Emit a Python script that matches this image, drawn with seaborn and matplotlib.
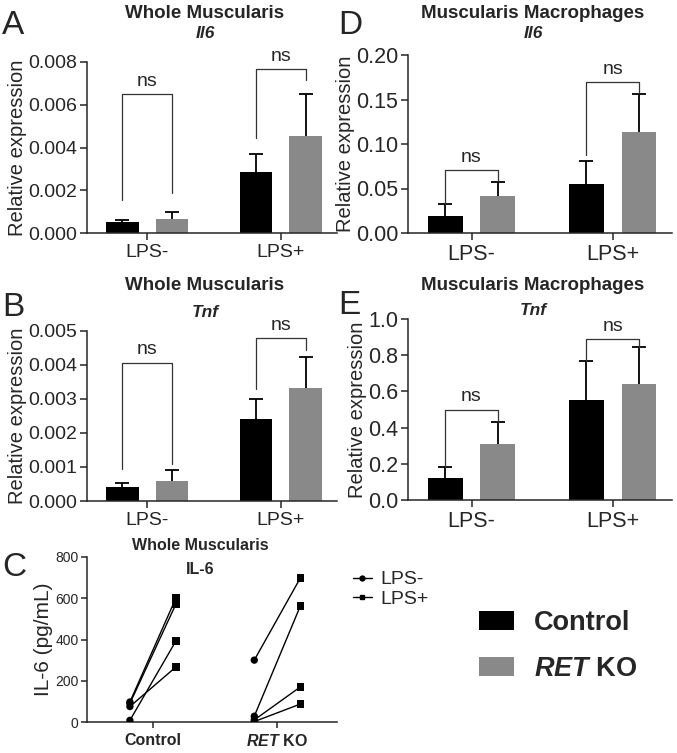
import pandas as pd
import matplotlib
matplotlib.use('Agg')
import matplotlib.pyplot as plt
import seaborn as sns
from matplotlib.lines import Line2D
from matplotlib.patches import Patch

# categories
lps_levels = ['LPS-', 'LPS+']
genotypes = ['Control', 'RET KO']
bar_colors = ['#000000', '#898989']

# A: whole muscularis Il6 (mean, sem per LPS level)
a_ctrl_mean = [0.00050, 0.00285]
a_ctrl_sem = [0.00012, 0.00083]
a_ret_mean = [0.00064, 0.00454]
a_ret_sem = [0.00033, 0.00198]
a_brk_top = [0.00649, 0.00767]
a_brk_legs = [[0.00154, 0.00189], [0.00443, 0.00716]]

# B: whole muscularis Tnf
b_ctrl_mean = [0.00040, 0.00240]
b_ctrl_sem = [0.00012, 0.00059]
b_ret_mean = [0.00060, 0.00331]
b_ret_sem = [0.00030, 0.00092]
b_brk_top = [0.00407, 0.00480]
b_brk_legs = [[0.00094, 0.00108], [0.00328, 0.00444]]

# D: muscularis macrophages Il6
d_ctrl_mean = [0.0194, 0.0549]
d_ctrl_sem = [0.0135, 0.0255]
d_ret_mean = [0.0411, 0.1140]
d_ret_sem = [0.0161, 0.0420]
d_brk_top = [0.0707, 0.1700]
d_brk_legs = [[0.0329, 0.0580], [0.0879, 0.1570]]

# E: muscularis macrophages Tnf
e_ctrl_mean = [0.120, 0.554]
e_ctrl_sem = [0.064, 0.216]
e_ret_mean = [0.308, 0.639]
e_ret_sem = [0.125, 0.204]
e_brk_top = [0.500, 0.888]
e_brk_legs = [[0.184, 0.433], [0.770, 0.843]]

# C: IL-6 protein, paired samples (LPS- -> LPS+)
c_ctrl_minus = [97, 90, 75, 8]
c_ctrl_plus = [601, 572, 267, 393]
c_ret_minus = [300, 28, 10, 2]
c_ret_plus = [698, 562, 170, 87]

sns.set_style('ticks')
plt.rcParams['font.family'] = ['Liberation Sans', 'DejaVu Sans']
plt.rcParams['mathtext.fontset'] = 'custom'
plt.rcParams['mathtext.rm'] = 'Liberation Sans'
plt.rcParams['mathtext.it'] = 'Liberation Sans:italic'
plt.rcParams['mathtext.bf'] = 'Liberation Sans:bold'
plt.rcParams['mathtext.bfit'] = 'Liberation Sans:bold:italic'
plt.rcParams['axes.linewidth'] = 1.1

W, H = 677, 753
fig = plt.figure(figsize=(W / 100, H / 100), dpi=100)


def rect(x0, y0, x1, y1):
    return [x0 / W, 1 - y1 / H, (x1 - x0) / W, (y1 - y0) / H]


def bar_panel(r, ctrl_mean, ctrl_sem, ret_mean, ret_sem, brk_top, brk_legs,
              yticks, fmt, fs):
    ax = fig.add_axes(r)
    df = pd.DataFrame({
        'lps': lps_levels * 2,
        'genotype': [genotypes[0]] * 2 + [genotypes[1]] * 2,
        'value': ctrl_mean + ret_mean,
    })
    sns.barplot(data=df, x='lps', y='value', hue='genotype', hue_order=genotypes,
                order=lps_levels, palette=bar_colors, saturation=1, width=0.744,
                gap=0.34, errorbar=None, legend=False, linewidth=0, ax=ax)
    bars = sorted(ax.patches, key=lambda p: p.get_x())
    sems = [ctrl_sem[0], ret_sem[0], ctrl_sem[1], ret_sem[1]]
    xs = [b.get_x() + b.get_width() / 2 for b in bars]
    for b, x, s in zip(bars, xs, sems):
        eb = ax.errorbar(x, b.get_height(), yerr=[[0], [s]], color='black',
                         lw=1.3, capsize=5, capthick=1.3, zorder=3)
        # only the upper cap, as in Prism
        for cap in eb[1]:
            if abs(cap.get_ydata()[0] - b.get_height()) < 1e-12:
                cap.set_visible(False)
    for i in range(2):
        x0, x1 = xs[2 * i], xs[2 * i + 1]
        ax.plot([x0, x0, x1, x1], [brk_legs[i][0], brk_top[i], brk_top[i], brk_legs[i][1]],
                color='#333333', lw=0.9, zorder=4)
        ax.annotate('ns', ((x0 + x1) / 2, brk_top[i]), xytext=(0, 3),
                    textcoords='offset points', ha='center', va='bottom', fontsize=14)
    ax.set_xlim(-0.45, 1.42)
    ax.set_ylim(yticks[0], yticks[-1])
    ax.set_yticks(yticks)
    ax.set_yticklabels([fmt.format(t) for t in yticks], fontsize=fs)
    ax.set_xticks([0, 1])
    ax.set_xticklabels(lps_levels, fontsize=fs)
    ax.set_xlabel('')
    ax.set_ylabel('Relative expression', fontsize=14.5, labelpad=1)
    ax.tick_params(direction='out', length=5, width=1.1, pad=2)
    ax.tick_params(axis='x', pad=3)
    sns.despine(ax=ax)
    return ax


bar_panel(rect(87, 62, 337, 233), a_ctrl_mean, a_ctrl_sem, a_ret_mean, a_ret_sem,
          a_brk_top, a_brk_legs, [0, 0.002, 0.004, 0.006, 0.008], '{:.3f}', 14)
bar_panel(rect(87, 331, 337, 501), b_ctrl_mean, b_ctrl_sem, b_ret_mean, b_ret_sem,
          b_brk_top, b_brk_legs, [0, 0.001, 0.002, 0.003, 0.004, 0.005], '{:.3f}', 14)
bar_panel(rect(408, 55, 672, 233), d_ctrl_mean, d_ctrl_sem, d_ret_mean, d_ret_sem,
          d_brk_top, d_brk_legs, [0, 0.05, 0.10, 0.15, 0.20], '{:.2f}', 15.5)
bar_panel(rect(408, 319, 672, 500), e_ctrl_mean, e_ctrl_sem, e_ret_mean, e_ret_sem,
          e_brk_top, e_brk_legs, [0, 0.2, 0.4, 0.6, 0.8, 1.0], '{:.1f}', 15.5)

# panel C: paired lines
axc = fig.add_axes(rect(87, 557, 337, 722))
rows = []
for gi, (mins, plus) in enumerate([(c_ctrl_minus, c_ctrl_plus), (c_ret_minus, c_ret_plus)]):
    for k in range(len(mins)):
        rows.append({'pair': f'{gi}-{k}', 'lps': 'LPS-', 'x': gi - 0.185, 'value': mins[k]})
        rows.append({'pair': f'{gi}-{k}', 'lps': 'LPS+', 'x': gi + 0.185, 'value': plus[k]})
dfc = pd.DataFrame(rows)
sns.lineplot(data=dfc, x='x', y='value', units='pair', estimator=None,
             color='black', lw=1.0, ax=axc, legend=False)
sns.scatterplot(data=dfc, x='x', y='value', style='lps',
                markers={'LPS-': 'o', 'LPS+': 's'}, color='black', s=28,
                linewidth=0, ax=axc, legend=False, zorder=3)
axc.set_xlim(-0.53, 1.48)
axc.set_ylim(0, 800)
axc.set_yticks([0, 200, 400, 600, 800])
axc.set_yticklabels(['0', '200', '400', '600', '800'], fontsize=10)
axc.set_xticks([0, 1])
axc.set_xticklabels(['Control', r'$\mathbfit{RET}$ KO'], fontsize=11.5, fontweight='bold')
axc.set_xlabel('')
axc.set_ylabel('IL-6 (pg/mL)', fontsize=15, labelpad=2)
axc.tick_params(direction='out', length=4, width=1.1, pad=2)
axc.tick_params(axis='x', pad=4)
sns.despine(ax=axc)

# titles
for x, y, txt in [(205, 14, 'Whole Muscularis'), (533, 14, 'Muscularis Macrophages'),
                  (205, 286, 'Whole Muscularis'), (533, 285, 'Muscularis Macrophages')]:
    fig.text(x / W, 1 - y / H, txt, ha='center', va='center', fontsize=13.5, fontweight='bold')
for x, y, txt in [(205, 34, 'Il6'), (533, 34, 'Il6'), (205, 312, 'Tnf'), (533, 310, 'Tnf')]:
    fig.text(x / W, 1 - y / H, txt, ha='center', va='center', fontsize=12.5,
             fontweight='bold', style='italic')
fig.text(200 / W, 1 - 546 / H, 'Whole Muscularis', ha='center', va='center',
         fontsize=11.5, fontweight='bold')
fig.text(200 / W, 1 - 569 / H, 'IL-6', ha='center', va='center',
         fontsize=11.5, fontweight='bold')

# panel letters
for x, y, letter in [(2, 25, 'A'), (2, 307, 'B'), (2, 568, 'C'), (338, 26, 'D'), (338, 305, 'E')]:
    fig.text(x / W, 1 - y / H, letter, ha='left', va='center', fontsize=24)

# legends
line_handles = [Line2D([], [], color='black', lw=1, marker='o', ms=3.5),
                Line2D([], [], color='black', lw=1, marker='s', ms=3.5)]
fig.legend(handles=line_handles, labels=lps_levels, loc='upper left',
           bbox_to_anchor=(343 / W, 1 - 561 / H), frameon=False, fontsize=14,
           handlelength=1.0, handletextpad=0.4, labelspacing=0.1, borderpad=0)
bar_handles = [Patch(facecolor=c, edgecolor='none') for c in bar_colors]
fig.legend(handles=bar_handles, labels=['Control', r'$\mathbfit{RET}$ KO'],
           loc='upper left', bbox_to_anchor=(465 / W, 1 - 596 / H), frameon=False,
           prop={'size': 19.5, 'weight': 'bold'}, handlelength=1.3, handleheight=0.7,
           handletextpad=0.75, labelspacing=0.75, borderpad=0)

fig.savefig('out.png', dpi=100)
